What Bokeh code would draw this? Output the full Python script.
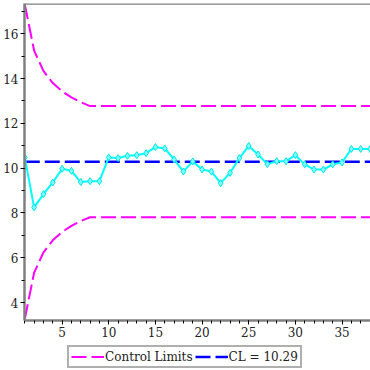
from bokeh.plotting import figure
from bokeh.layouts import column
from bokeh.models import (Legend, LegendItem, Span,
                          SingleIntervalTicker, Range1d)
from bokeh.embed import file_html
from bokeh.resources import INLINE

# data: moving-average chart
sample = list(range(1, 39))
values = [10.48, 8.25, 8.84, 9.36, 9.97, 9.88, 9.38, 9.42, 9.42, 10.48,
          10.45, 10.55, 10.58, 10.67, 10.94, 10.88, 10.39, 9.85, 10.30, 9.94,
          9.85, 9.33, 9.79, 10.45, 10.99, 10.61, 10.18, 10.31, 10.31, 10.58,
          10.17, 9.94, 9.94, 10.17, 10.25, 10.86, 10.86, 10.86]
limit_x = [1, 2, 3, 4, 5, 6, 7, 8, 38]
ucl = [17.31, 15.25, 14.34, 13.80, 13.43, 13.16, 12.94, 12.77, 12.77]
lcl = [3.27, 5.33, 6.24, 6.78, 7.15, 7.42, 7.64, 7.81, 7.81]
cl_x = [1, 38]
cl = [10.29, 10.29]
cl_label = "CL = 10.29"
limits_label = "Control Limits"

FONT = "DejaVu Serif"
AXIS_GREY = "#808080"
Y_TOP = 17.35
MAGENTA = "#FF00FF"
BLUE = "#0000FF"
DASH = "15 5"

p = figure(width=370, height=345, output_backend="svg", toolbar_location=None,
           x_range=Range1d(0.97, 38.05), y_range=Range1d(3.2, Y_TOP),
           min_border_left=22, min_border_right=0, min_border_top=3,
           min_border_bottom=25)
p.grid.visible = False
p.outline_line_color = None
p.background_fill_color = "white"
p.border_fill_color = "white"

for ax in (p.xaxis[0], p.yaxis[0]):
    ax.axis_line_color = AXIS_GREY
    ax.axis_line_width = 2.5
    ax.major_tick_line_color = "black"
    ax.minor_tick_line_color = "black"
    ax.major_tick_in = 0
    ax.minor_tick_in = 0
    ax.major_tick_out = 4
    ax.minor_tick_out = 3
    ax.major_label_text_font = FONT
    ax.major_label_text_font_size = "12px"
    ax.major_label_text_color = "#222222"
    ax.major_label_standoff = 2

p.xaxis[0].ticker = SingleIntervalTicker(interval=5, num_minor_ticks=5)
p.yaxis[0].ticker = SingleIntervalTicker(interval=2, num_minor_ticks=2)

# top frame border
p.add_layout(Span(location=Y_TOP, dimension="width", line_color=AXIS_GREY,
                  line_width=2.5))

p.line(limit_x, ucl, line_color=MAGENTA, line_width=2, line_dash=DASH)
p.line(limit_x, lcl, line_color=MAGENTA, line_width=2, line_dash=DASH)
p.line(cl_x, cl, line_color=BLUE, line_width=2.5, line_dash=DASH)
p.line(sample, values, line_color="#00FFFF", line_width=2)
p.scatter(sample, values, marker="diamond", size=7, line_color="#00E5E5",
          fill_color="#80FFFF", line_width=1)

# legend strip below the plot (its own line renderers lie outside its view)
lg = figure(width=370, height=24, output_backend="svg", toolbar_location=None,
            x_range=Range1d(-2, -1), y_range=Range1d(-2, -1),
            x_axis_location=None, y_axis_location=None,
            min_border_left=0, min_border_right=0, min_border_top=0,
            min_border_bottom=0)
lg.grid.visible = False
lg.outline_line_color = None
lg.border_fill_color = "white"
k_lim = lg.line(limit_x, ucl, line_color=MAGENTA, line_width=2, line_dash=DASH)
k_cl = lg.line(cl_x, cl, line_color=BLUE, line_width=2.5, line_dash=DASH)

legend = Legend(items=[LegendItem(label=limits_label, renderers=[k_lim]),
                       LegendItem(label=cl_label, renderers=[k_cl])],
                orientation="horizontal", location=(43, 1),
                label_text_font=FONT, label_text_font_size="12px",
                label_text_color="#222222",
                glyph_width=33, glyph_height=15, label_height=15,
                label_standoff=1, spacing=2, padding=2, margin=0,
                border_line_color="#606060", border_line_width=2)
lg.add_layout(legend, "center")

open("out.html", "w").write(file_html(column(p, lg), INLINE))
